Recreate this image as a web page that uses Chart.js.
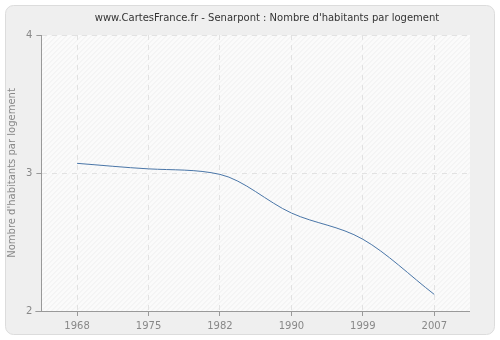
<!DOCTYPE html>
<html>
<head>
<meta charset="utf-8">
<script src="https://cdn.jsdelivr.net/npm/chart.js"></script>
<style>
  html, body { margin: 0; padding: 0; background: #ffffff; }
  canvas { display: block; }
</style>
</head>
<body>
<canvas id="chart" width="500" height="340"></canvas>
<script>
// Data
const years = ["1968", "1975", "1982", "1990", "1999", "2007"];
const habitantsParLogement = [3.07, 3.03, 2.99, 2.71, 2.52, 2.12];
const yTicks = [2, 3, 4];

const titleText = "www.CartesFrance.fr - Senarpont : Nombre d'habitants par logement";
const yTitle = "Nombre d'habitants par logement";

// Grey rounded panel, hatched plot background and the title
const backgroundPlugin = {
    id: 'panelBackground',
    beforeDraw(chart) {
        const ctx = chart.ctx;
        const area = chart.chartArea;
        ctx.save();
        // outer panel
        ctx.fillStyle = '#efefef';
        ctx.strokeStyle = '#dcdcdc';
        ctx.lineWidth = 1;
        ctx.beginPath();
        ctx.roundRect(5.5, 5.5, 489, 329, 8);
        ctx.fill();
        ctx.stroke();

        // title
        ctx.fillStyle = '#333333';
        ctx.font = '10px "DejaVu Sans"';
        ctx.textAlign = 'center';
        ctx.textBaseline = 'middle';
        ctx.fillText(titleText, 267, 18);

        // plot area with faint diagonal hatch
        ctx.fillStyle = '#fbfbfb';
        ctx.fillRect(area.left, area.top, area.right - area.left, area.bottom - area.top);
        ctx.beginPath();
        ctx.rect(area.left, area.top, area.right - area.left, area.bottom - area.top);
        ctx.clip();
        ctx.strokeStyle = '#efefef';
        ctx.lineWidth = 1;
        for (let x = area.left - 300; x < area.right + 10; x += 5) {
            ctx.beginPath();
            ctx.moveTo(x, area.bottom);
            ctx.lineTo(x + (area.bottom - area.top), area.top);
            ctx.stroke();
        }
        ctx.restore();
    },
    afterDraw(chart) {
        // x axis line runs a little past the y axis, like the original
        const ctx = chart.ctx;
        const area = chart.chartArea;
        ctx.save();
        ctx.strokeStyle = '#999999';
        ctx.lineWidth = 1;
        ctx.beginPath();
        ctx.moveTo(area.left - 6, Math.round(area.bottom) + 0.5);
        ctx.lineTo(area.right, Math.round(area.bottom) + 0.5);
        ctx.stroke();
        ctx.restore();
    }
};

const ctx = document.getElementById('chart').getContext('2d');
new Chart(ctx, {
    type: 'line',
    data: {
        labels: years,
        datasets: [{
            label: yTitle,
            data: habitantsParLogement,
            borderColor: '#4a76a8',
            borderWidth: 1,
            pointRadius: 0,
            fill: false,
            cubicInterpolationMode: 'monotone'
        }]
    },
    options: {
        responsive: false,
        animation: false,
        layout: { padding: { top: 35, right: 30, bottom: 4, left: 6 } },
        plugins: {
            legend: { display: false },
            tooltip: { enabled: false },
            title: { display: false }
        },
        scales: {
            x: {
                offset: true,
                grid: {
                    color: '#e2e2e2',
                    tickColor: '#999999',
                    tickLength: 5
                },
                border: { display: false, dash: [5, 5] },
                ticks: {
                    color: '#888888',
                    font: { family: 'DejaVu Sans', size: 10 },
                    padding: 4,
                    maxRotation: 0
                }
            },
            y: {
                min: 2,
                max: 4,
                afterBuildTicks(scale) {
                    scale.ticks = yTicks.map(v => ({ value: v }));
                },
                grid: {
                    color: '#e2e2e2',
                    tickColor: '#999999',
                    tickLength: 5
                },
                border: { display: true, color: '#999999', dash: [5, 5] },
                ticks: {
                    color: '#888888',
                    font: { family: 'DejaVu Sans', size: 10 },
                    padding: 4
                },
                title: {
                    display: true,
                    text: yTitle,
                    color: '#888888',
                    font: { family: 'DejaVu Sans', size: 10 },
                    padding: { top: 0, bottom: 4 }
                }
            }
        }
    },
    plugins: [backgroundPlugin]
});
</script>
</body>
</html>
